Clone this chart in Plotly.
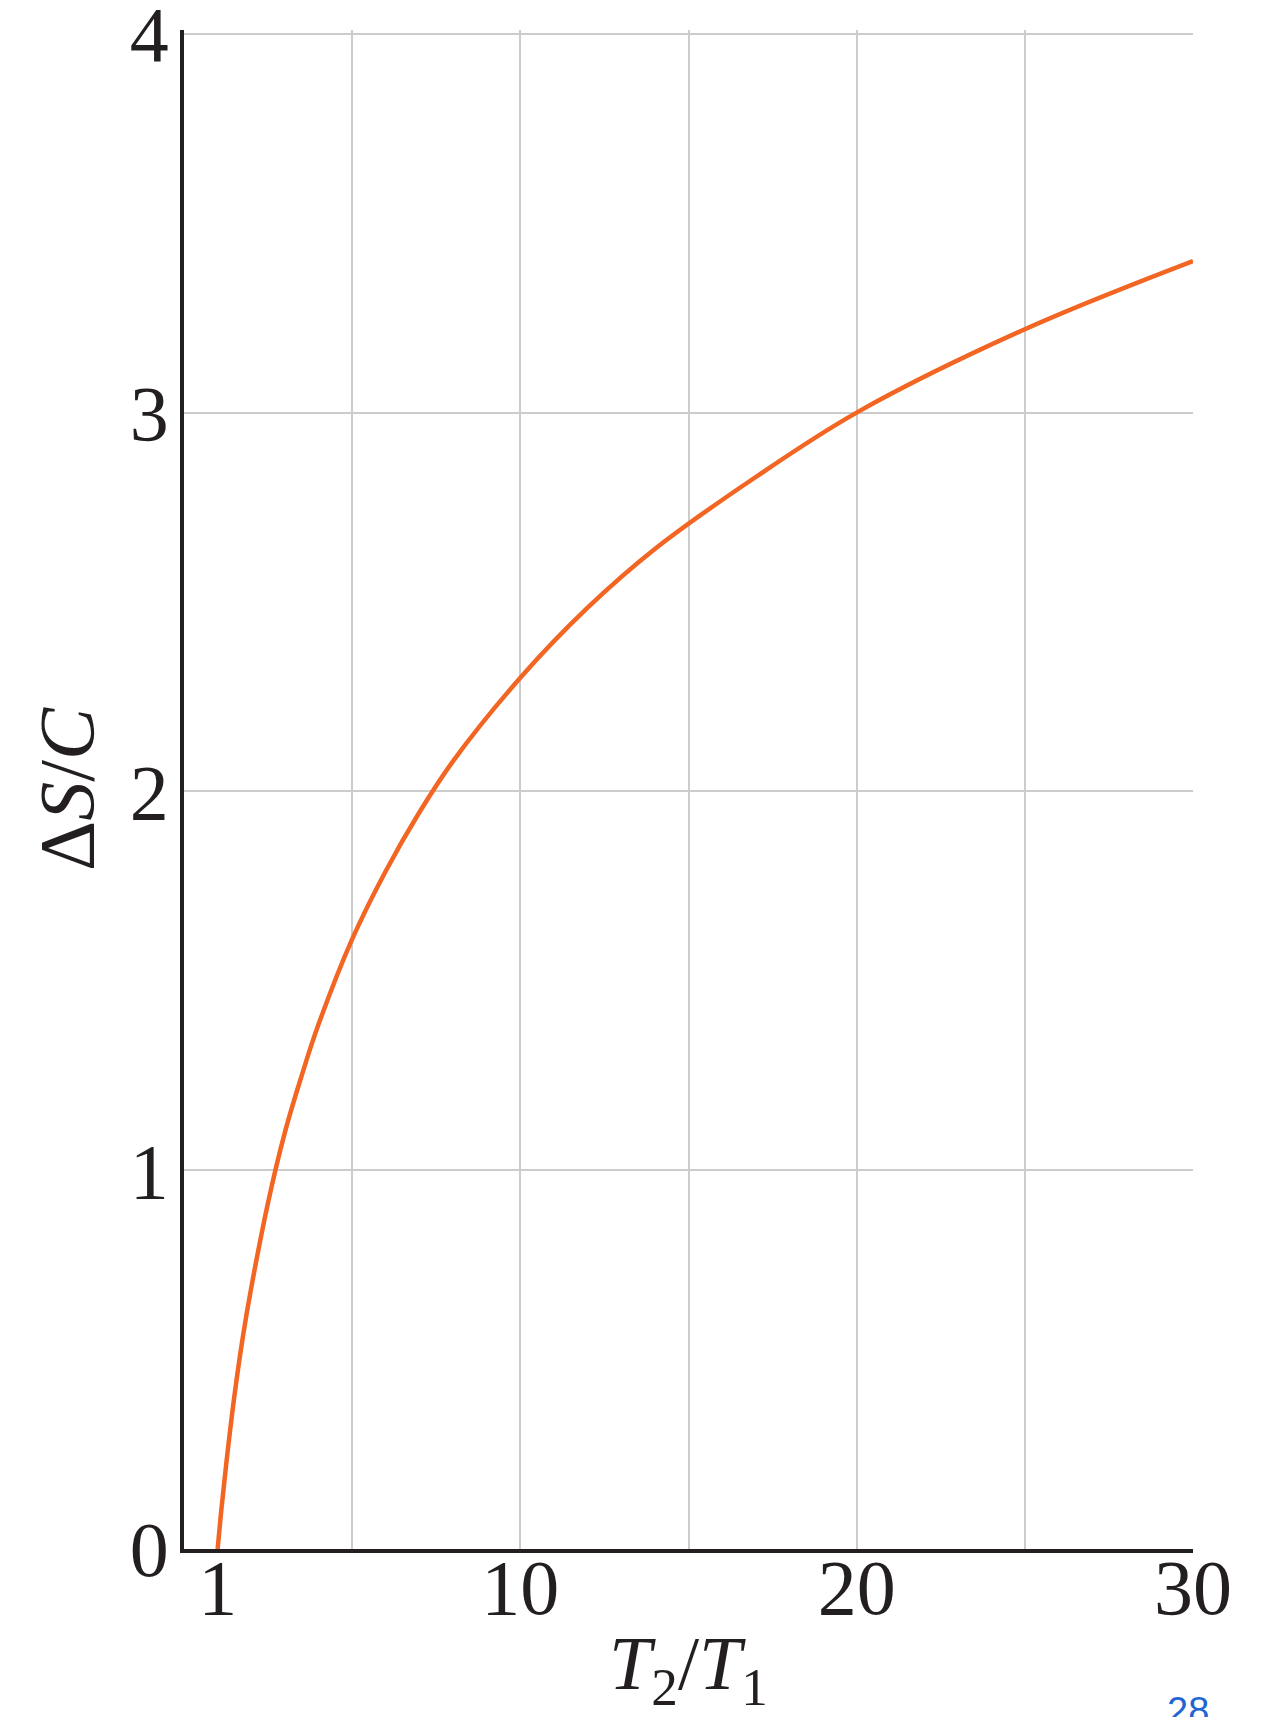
import plotly.graph_objects as go

# Temperature ratio T2/T1 and entropy change ΔS/C
ratio = [1, 1.1, 1.25, 1.5, 1.75, 2, 2.5, 3, 3.5, 4, 5, 6, 7, 8, 10, 12, 14, 17, 20, 25, 30]
dS_over_C = [0, 0.095, 0.22, 0.405, 0.56, 0.69, 0.915, 1.10, 1.25, 1.385, 1.61, 1.79,
             1.945, 2.08, 2.30, 2.485, 2.64, 2.83, 3.00, 3.22, 3.40]

x_tick_vals = [1, 10, 20, 30]
x_tick_text = ["1", "10", "20", "30"]
y_tick_vals = [0, 1, 2, 3, 4]
y_tick_text = ["0", "1", "2", "3", "4"]

SERIF = "Liberation Serif, Times New Roman, serif"
ORANGE = "#f26522"
GRID = "#cccccc"
INK = "#231f20"

fig = go.Figure()
fig.add_trace(go.Scatter(
    x=ratio, y=dS_over_C, mode="lines",
    line=dict(color=ORANGE, width=4.5, shape="spline", smoothing=1.0),
    showlegend=False, hoverinfo="skip", cliponaxis=False,
))
# invisible trace on the label axis so it is rendered
fig.add_trace(go.Scatter(x=[0, 30], y=[0, 0], xaxis="x2", mode="lines",
                         line=dict(width=0), showlegend=False, hoverinfo="skip"))

# page body has an 8px default margin, so the figure is 8px smaller than the window
fig.update_layout(
    width=1253, height=1709,
    margin=dict(l=176, r=68, t=22, b=168),
    paper_bgcolor="white", plot_bgcolor="white",
    font=dict(family=SERIF, color=INK),
    xaxis=dict(
        range=[0, 30], tick0=0, dtick=5, showgrid=True, gridcolor=GRID, gridwidth=2,
        showticklabels=False, ticks="", zeroline=False, automargin=False,
        showline=True, linecolor=INK, linewidth=3.5,
        title=dict(text="<i>T</i><sub>2</sub>/<i>T</i><sub>1</sub>",
                   font=dict(family=SERIF, size=76, color=INK), standoff=90),
        fixedrange=True,
    ),
    xaxis2=dict(
        overlaying="x", anchor="y", side="bottom", range=[0, 30], automargin=False,
        tickvals=x_tick_vals, ticktext=x_tick_text, showgrid=False, zeroline=False,
        showline=False, ticks="", ticklabelstandoff=-14, ticklabeloverflow="allow",
        tickfont=dict(family=SERIF, size=78, color=INK),
    ),
    yaxis=dict(
        range=[0, 4.01], tickvals=y_tick_vals, ticktext=y_tick_text, automargin=False,
        showgrid=True, gridcolor=GRID, gridwidth=2, zeroline=False, ticks="",
        showline=True, linecolor=INK, linewidth=3.5,
        tickfont=dict(family=SERIF, size=78, color=INK),
        ticklabelstandoff=-4, ticklabeloverflow="allow",
        title=dict(text="Δ<i>S</i>/<i>C</i>",
                   font=dict(family=SERIF, size=78, color=INK), standoff=11),
    ),
    annotations=[dict(
        text="28", xref="paper", yref="paper", x=0.995, y=-0.0912,
        xanchor="center", yanchor="top", showarrow=False,
        font=dict(family="Liberation Sans, Arial, sans-serif", size=38, color="#1f66d1"),
    )],
)

fig.write_html("out.html")
